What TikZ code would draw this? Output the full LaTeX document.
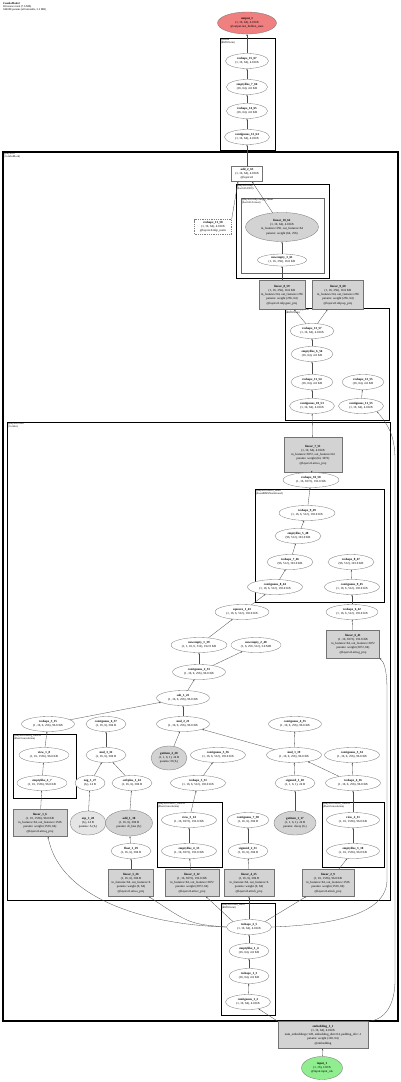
\documentclass[tikz,border=0pt]{standalone}
\usepackage{fontspec}
\setmainfont{Liberation Serif}
\usetikzlibrary{shapes.geometric,arrows.meta}
\definecolor{outred}{HTML}{F08080}
\definecolor{ingreen}{HTML}{90EE90}
\definecolor{nodegray}{HTML}{D3D3D3}
\newcommand{\mylab}[2]{\textbf{#1}\\#2}
\tikzset{
  every node/.style={font=\fontsize{3.1}{4.2}\selectfont, align=center, inner sep=0.4pt},
  ell/.style={ellipse, draw=black!55, line width=0.3pt, fill=white, minimum height=15pt},
  gell/.style={ell, fill=nodegray},
  lell/.style={ell, fill=black!10},
  gbox/.style={rectangle, draw=black!55, line width=0.3pt, fill=nodegray},
  wbox/.style={rectangle, draw=black!55, line width=0.3pt, fill=white},
  dbox/.style={wbox, draw=black!50, dash pattern=on 1pt off 0.8pt},
  clus/.style={draw=black, line width=0.9pt},
  clusb/.style={draw=black, line width=1.3pt},
  clusg/.style={draw=black!60, line width=0.8pt},
  clab/.style={anchor=north west, font=\fontsize{2.7}{3.1}\selectfont, align=left, inner sep=0.8pt},
  arr/.style={-{Stealth[length=1.8pt,width=1.4pt]}, draw=black!70, line width=0.3pt},
}
\begin{document}
\begin{tikzpicture}[x=1pt,y=-1pt]
\useasboundingbox (0,0) rectangle (400,1082);
\fill[white] (0,0) rectangle (400,1082);
% title
\node[anchor=north west, align=left, font=\fontsize{2.8}{3.3}\selectfont, inner sep=0] (title) at (3,2)
  {\textbf{ComboModel}\\69 tensors total (7.6 MB)\\944008 params (all trainable, 3.2 MB)};
% clusters
\draw[clus] (220,38) rectangle (275,150);
\node[clab] (lnorm) at (220,38) {@norm\\(RMSNorm)};
\draw[clusb] (3,152) rectangle (398,1021);
\node[clab] (llay) at (3,152) {@layers.0\\(ComboBlock)};
\draw[clus] (236,184) rectangle (329,278);
\node[clab] (lmlp) at (236,184) {@layers.0.mlp\\(SwiGLUFFN)};
\draw[clusg] (241,198) rectangle (324,273);
\node[clab] (lswi) at (241,198) {@layers.0.mlp.swiglu\_linear\\(SwiGLULinear)};
\draw[clus] (285,308) rectangle (389,420);
\node[clab] (lmlpn) at (285,308) {@layers.0.mlp\_norm\\(RMSNorm)};
\draw[clus] (7,422) rectangle (390,900);
\node[clab] (lattn) at (7,422) {@layers.0.attn\\(CoAttn)};
\draw[clus] (255,489) rectangle (384,602);
\node[clab] (lonorm) at (255,489) {@layers.0.attn.o\_norm\\(FusedRMSNormGated)};
\draw[clus] (13,734) rectangle (76,798);
\node[clab] (lq) at (13,734) {@layers.0.attn.q\_conv1d\\(ShortConvolution)};
\draw[clus] (157,802) rectangle (222,867);
\node[clab] (lv) at (157,802) {@layers.0.attn.v\_conv1d\\(ShortConvolution)};
\draw[clus] (322,802) rectangle (384,867);
\node[clab] (lk) at (322,802) {@layers.0.attn.k\_conv1d\\(ShortConvolution)};
\draw[clus] (221,903) rectangle (275,1015);
\node[clab] (lan) at (221,903) {@layers.0.attn\_norm\\(RMSNorm)};
% top
\node[ell, fill=outred, minimum width=59pt, minimum height=22pt] (out) at (247,23) {\mylab{output\_1}{(1, 16, 64), 4.0 KB\\@output.last\_hidden\_state}};
\node[ell, minimum width=43pt] (r1567) at (247,61) {\mylab{reshape\_15\_67}{(1, 16, 64), 4.0 KB}};
\node[ell, minimum width=41pt] (e766) at (247,87) {\mylab{emptylike\_7\_66}{(16, 64), 4.0 KB}};
\node[ell, minimum width=41pt] (r1465) at (247,111) {\mylab{reshape\_14\_65}{(16, 64), 4.0 KB}};
\node[ell, minimum width=45pt] (c1264) at (247,137) {\mylab{contiguous\_12\_64}{(1, 16, 64), 4.0 KB}};
% mlp
\node[wbox, minimum width=31pt, minimum height=15pt] (add263) at (247,174) {\mylab{add\_2\_63}{(1, 16, 64), 4.0 KB\\@layers.0}};
\node[gell, minimum width=73pt, minimum height=29pt] (lin1062) at (282,227) {\mylab{linear\_10\_62}{(1, 16, 64), 4.0 KB\\in\_features=256, out\_features=64\\params: weight (64, 256)}};
\node[ell, minimum width=49pt, minimum height=12pt] (ne361) at (282,260) {\mylab{newempty\_3\_61}{(1, 16, 256), 16.0 KB}};
\node[dbox, minimum width=37pt, minimum height=15pt] (r1158) at (213,227) {\mylab{reshape\_11\_58}{(1, 16, 64), 4.0 KB\\@layers.0.mlp\_norm}};
\node[gbox, minimum width=46pt, minimum height=29pt] (lin859) at (282,295) {\mylab{linear\_8\_59}{(1, 16, 256), 16.0 KB\\in\_features=64, out\_features=256\\params: weight (256, 64)\\@layers.0.mlp.gate\_proj}};
\node[gbox, minimum width=51pt, minimum height=29pt] (lin960) at (338,295) {\mylab{linear\_9\_60}{(1, 16, 256), 16.0 KB\\in\_features=64, out\_features=256\\params: weight (256, 64)\\@layers.0.mlp.up\_proj}};
\node[ell, minimum width=44pt] (r1357) at (312,331) {\mylab{reshape\_13\_57}{(1, 16, 64), 4.0 KB}};
\node[ell, minimum width=42pt] (e656) at (312,354) {\mylab{emptylike\_6\_56}{(16, 64), 4.0 KB}};
\node[ell, minimum width=42pt] (r1154) at (312,382) {\mylab{reshape\_11\_54}{(16, 64), 4.0 KB}};
\node[ell, minimum width=42pt] (r1255) at (363,382) {\mylab{reshape\_12\_55}{(16, 64), 4.0 KB}};
\node[ell, minimum width=45pt] (c1053) at (312,406) {\mylab{contiguous\_10\_53}{(1, 16, 64), 4.0 KB}};
\node[ell, minimum width=45pt] (c1155) at (361,406) {\mylab{contiguous\_11\_55}{(1, 16, 64), 4.0 KB}};
% attn upper
\node[gbox, minimum width=58pt, minimum height=35pt] (lin751) at (313,455) {\mylab{linear\_7\_51}{(1, 16, 64), 4.0 KB\\in\_features=3072, out\_features=64\\params: weight (64, 3072)\\@layers.0.attn.o\_proj}};
\node[ell, minimum width=56pt] (r1050) at (311,480) {\mylab{reshape\_10\_50}{(1, 16, 3072), 192.0 KB}};
\node[ell, minimum width=56pt] (r949) at (307,513) {\mylab{reshape\_9\_49}{(1, 16, 6, 512), 192.0 KB}};
\node[ell, minimum width=46pt] (e548) at (298,536) {\mylab{emptylike\_5\_48}{(96, 512), 192.0 KB}};
\node[ell, minimum width=46pt] (r746) at (290,562) {\mylab{reshape\_7\_46}{(96, 512), 192.0 KB}};
\node[ell, minimum width=46pt] (r847) at (351,562) {\mylab{reshape\_8\_47}{(96, 512), 192.0 KB}};
\node[ell, minimum width=55pt] (c844) at (275,587) {\mylab{contiguous\_8\_44}{(1, 16, 6, 512), 192.0 KB}};
\node[ell, minimum width=55pt] (c945) at (352,587) {\mylab{contiguous\_9\_45}{(1, 16, 6, 512), 192.0 KB}};
\node[ell, minimum width=54pt] (sq143) at (242,612) {\mylab{squeeze\_1\_43}{(1, 16, 6, 512), 192.0 KB}};
\node[ell, minimum width=52pt] (r642) at (352,612) {\mylab{reshape\_6\_42}{(1, 16, 6, 512), 192.0 KB}};
\node[gbox, minimum width=53pt, minimum height=28pt] (lin641) at (353,644) {\mylab{linear\_6\_41}{(1, 16, 3072), 192.0 KB\\in\_features=64, out\_features=3072\\params: weight (3072, 64)\\@layers.0.attn.g\_proj}};
\node[ell, minimum width=56pt] (ne139) at (199,645) {\mylab{newempty\_1\_39}{(1, 1, 16, 6, 512), 192.0 KB}};
\node[ell, minimum width=50pt] (ne240) at (256,645) {\mylab{newempty\_2\_40}{(1, 6, 256, 512), 3.0 MB}};
\node[ell, minimum width=53pt] (c233) at (199,672) {\mylab{contiguous\_2\_33}{(1, 16, 6, 256), 96.0 KB}};
\node[ell, minimum width=53pt] (sub122) at (183,698) {\mylab{sub\_1\_22}{(1, 16, 6, 256), 96.0 KB}};
\node[ell, minimum width=53pt] (r315) at (48,724) {\mylab{reshape\_3\_15}{(1, 16, 6, 256), 96.0 KB}};
\node[ell, minimum width=40pt] (c637) at (106,724) {\mylab{contiguous\_6\_37}{(1, 16, 6), 384 B}};
\node[ell, minimum width=53pt] (mul221) at (183,724) {\mylab{mul\_2\_21}{(1, 16, 6, 256), 96.0 KB}};
\node[ell, minimum width=53pt] (c435) at (295,724) {\mylab{contiguous\_4\_35}{(1, 16, 6, 256), 96.0 KB}};
% attn middle
\node[ell, minimum width=50pt] (view18) at (44,755) {\mylab{view\_1\_8}{(1, 16, 1536), 96.0 KB}};
\node[ell, minimum width=40pt] (mul332) at (106,755) {\mylab{mul\_3\_32}{(1, 16, 6), 384 B}};
\node[gell, minimum width=36pt, minimum height=24pt] (gi220) at (169,758) {\mylab{getitem\_2\_20}{(1, 1, 6, 1), 24 B\\params: D (6,)}};
\node[ell, minimum width=55pt] (c536) at (218,755) {\mylab{contiguous\_5\_36}{(1, 16, 6, 512), 192.0 KB}};
\node[ell, minimum width=55pt] (mul119) at (294,755) {\mylab{mul\_1\_19}{(1, 16, 6, 256), 96.0 KB}};
\node[ell, minimum width=55pt] (c334) at (352,755) {\mylab{contiguous\_3\_34}{(1, 16, 6, 256), 96.0 KB}};
\node[ell, minimum width=50pt] (e27) at (42,783) {\mylab{emptylike\_2\_7}{(1, 16, 1536), 96.0 KB}};
\node[ell, minimum width=30pt] (neg127) at (90,783) {\mylab{neg\_1\_27}{(6,), 24 B}};
\node[ell, minimum width=40pt] (sp124) at (132,783) {\mylab{softplus\_1\_24}{(1, 16, 6), 384 B}};
\node[ell, minimum width=55pt] (r531) at (198,783) {\mylab{reshape\_5\_31}{(1, 16, 6, 512), 192.0 KB}};
\node[ell, minimum width=40pt] (sig118) at (295,783) {\mylab{sigmoid\_1\_18}{(1, 1, 6, 1), 24 B}};
\node[ell, minimum width=55pt] (r416) at (353,783) {\mylab{reshape\_4\_16}{(1, 16, 6, 256), 96.0 KB}};
\node[gbox, minimum width=54pt, minimum height=27pt] (lin16) at (40,823) {\mylab{linear\_1\_6}{(1, 16, 1536), 96.0 KB\\in\_features=64, out\_features=1536\\params: weight (1536, 64)\\@layers.0.attn.q\_proj}};
\node[lell, minimum width=36pt, minimum height=24pt] (exp128) at (88,823) {\mylab{exp\_1\_28}{(6,), 24 B\\params: A (6,)}};
\node[gell, minimum width=47pt, minimum height=26pt] (add130) at (129,823) {\mylab{add\_1\_30}{(1, 16, 6), 384 B\\params: dt\_bias (6,)}};
\node[ell, minimum width=55pt] (view314) at (189,820) {\mylab{view\_3\_14}{(1, 16, 3072), 192.0 KB}};
\node[ell, minimum width=55pt] (e413) at (189,851) {\mylab{emptylike\_4\_13}{(1, 16, 3072), 192.0 KB}};
\node[ell, minimum width=42pt] (c738) at (248,820) {\mylab{contiguous\_7\_38}{(1, 16, 6), 384 B}};
\node[gell, minimum width=42pt, minimum height=24pt] (gi117) at (295,823) {\mylab{getitem\_1\_17}{(1, 1, 6, 1), 24 B\\params: decay (6,)}};
\node[ell, minimum width=53pt] (view211) at (353,820) {\mylab{view\_2\_11}{(1, 16, 1536), 96.0 KB}};
\node[ell, minimum width=53pt] (e310) at (353,851) {\mylab{emptylike\_3\_10}{(1, 16, 1536), 96.0 KB}};
\node[ell, minimum width=40pt] (fl129) at (131,851) {\mylab{float\_1\_29}{(1, 16, 6), 384 B}};
\node[ell, minimum width=40pt] (sig231) at (248,851) {\mylab{sigmoid\_2\_31}{(1, 16, 6), 384 B}};
\node[gbox, minimum width=45pt, minimum height=27pt] (lin526) at (131,883) {\mylab{linear\_5\_26}{(1, 16, 6), 384 B\\in\_features=64, out\_features=6\\params: weight (6, 64)\\@layers.0.attn.a\_proj}};
\node[gbox, minimum width=54pt, minimum height=27pt] (lin312) at (192,883) {\mylab{linear\_3\_12}{(1, 16, 3072), 192.0 KB\\in\_features=64, out\_features=3072\\params: weight (3072, 64)\\@layers.0.attn.v\_proj}};
\node[gbox, minimum width=50pt, minimum height=27pt] (lin425) at (249,883) {\mylab{linear\_4\_25}{(1, 16, 6), 384 B\\in\_features=64, out\_features=6\\params: weight (6, 64)\\@layers.0.attn.b\_proj}};
\node[gbox, minimum width=52pt, minimum height=27pt] (lin29) at (328,883) {\mylab{linear\_2\_9}{(1, 16, 1536), 96.0 KB\\in\_features=64, out\_features=1536\\params: weight (1536, 64)\\@layers.0.attn.k\_proj}};
% attn_norm and input
\node[ell, minimum width=45pt] (r25) at (249,927) {\mylab{reshape\_2\_5}{(1, 16, 64), 4.0 KB}};
\node[ell, minimum width=40pt] (e14) at (249,951) {\mylab{emptylike\_1\_4}{(16, 64), 4.0 KB}};
\node[ell, minimum width=40pt] (r13) at (249,976) {\mylab{reshape\_1\_3}{(16, 64), 4.0 KB}};
\node[ell, minimum width=45pt] (c12) at (248,1002) {\mylab{contiguous\_1\_2}{(1, 16, 64), 4.0 KB}};
\node[gbox, minimum width=90pt, minimum height=27pt] (emb) at (323,1035) {\mylab{embedding\_1\_1}{(1, 16, 64), 4.0 KB\\num\_embeddings=128, embedding\_dim=64, padding\_idx=-1\\params: weight (128, 64)\\@embedding}};
\node[ell, fill=ingreen, minimum width=41pt, minimum height=23pt] (inp) at (322,1068) {\mylab{input\_1}{(1, 16), 128 B\\@input.input\_ids}};
% edges
\draw[arr] (inp) -- (emb);
\draw[arr] (emb.north west) -- (c12);
\draw[arr] (c12) -- (r13);
\draw[arr] (r13) -- (e14);
\draw[arr] (e14) -- (r25);
\draw[arr] (r25.west) .. controls (150,925) and (60,900) .. ([xshift=8pt]lin16.south);
\draw[arr] (r25.west) .. controls (190,924) .. ([xshift=18pt]lin526.south);
\draw[arr] (r25.north west) -- ([xshift=14pt]lin312.south);
\draw[arr] (r25) -- (lin425);
\draw[arr] (r25.north east) -- ([xshift=-22pt]lin29.south);
\draw[arr] (r25.east) .. controls (330,925) and (387,915) .. (387,880) -- (387,690) .. controls (387,670) and (384,662) .. (lin641.south east);
\draw[arr] (emb.north east) .. controls (385,1020) and (395,1005) .. (395,980) -- (395,460) .. controls (395,435) and (388,425) .. (c1155.south east);
\draw[arr] (lin16) -- (e27);
\draw[arr] (e27) -- (view18);
\draw[arr] (view18) -- (r315);
\draw[arr] (r315) -- (sub122);
\draw[arr] (lin526) -- (fl129);
\draw[arr] (fl129) -- (add130);
\draw[arr] (add130) -- (sp124);
\draw[arr] (sp124) -- (mul332);
\draw[arr] (exp128) -- (neg127);
\draw[arr] (neg127) -- (mul332);
\draw[arr] (mul332) -- (c637);
\draw[arr] (lin312) -- (e413);
\draw[arr] (e413) -- (view314);
\draw[arr] (view314) -- (r531);
\draw[arr] (r531) -- (c536);
\draw[arr] (lin425) -- (sig231);
\draw[arr] (sig231) -- (c738);
\draw[arr] (lin29) -- (e310);
\draw[arr] (e310) -- (view211);
\draw[arr] (view211) -- (r416);
\draw[arr] (r416) -- (c334);
\draw[arr] (r416) -- (mul119);
\draw[arr] (gi117) -- (sig118);
\draw[arr] (sig118) -- (mul119);
\draw[arr] (mul119) -- (c435);
\draw[arr] (mul119) -- (mul221);
\draw[arr] (gi220) -- (mul221);
\draw[arr] (mul221) -- (sub122);
\draw[arr] (sub122) -- (c233);
\draw[arr] (c233) -- (ne139);
\draw[arr] (c233) -- (ne240);
\draw[arr] (ne139) -- (sq143);
\draw[arr] (sq143) -- (c844);
\draw[arr] (c844) -- (r746);
\draw[arr] (r746) -- (e548);
\draw[arr] (e548) -- (r949);
\draw[arr] (r949) -- (r1050);
\draw[arr] (r1050) -- (lin751);
\draw[arr] (lin641) -- (r642);
\draw[arr] (r642) -- (c945);
\draw[arr] (c945) -- (r847);
\draw[arr] (lin751) -- (c1053);
\draw[arr] (c1053) -- (r1154);
\draw[arr] (r1154) -- (e656);
\draw[arr] (e656) -- (r1357);
\draw[arr] (c1155) -- (r1255);
\draw[arr] (r1357) -- (lin859);
\draw[arr] (r1357) -- (lin960);
\draw[arr] (lin859) -- (ne361);
\draw[arr] (ne361) -- (lin1062);
\draw[arr] (lin1062) -- (add263);
\draw[arr] (r1158.north east) -- ([xshift=-9pt]add263.south);
\draw[arr] (add263) -- (c1264);
\draw[arr] (c1264) -- (r1465);
\draw[arr] (r1465) -- (e766);
\draw[arr] (e766) -- (r1567);
\draw[arr] (r1567) -- (out);
\end{tikzpicture}
\end{document}
